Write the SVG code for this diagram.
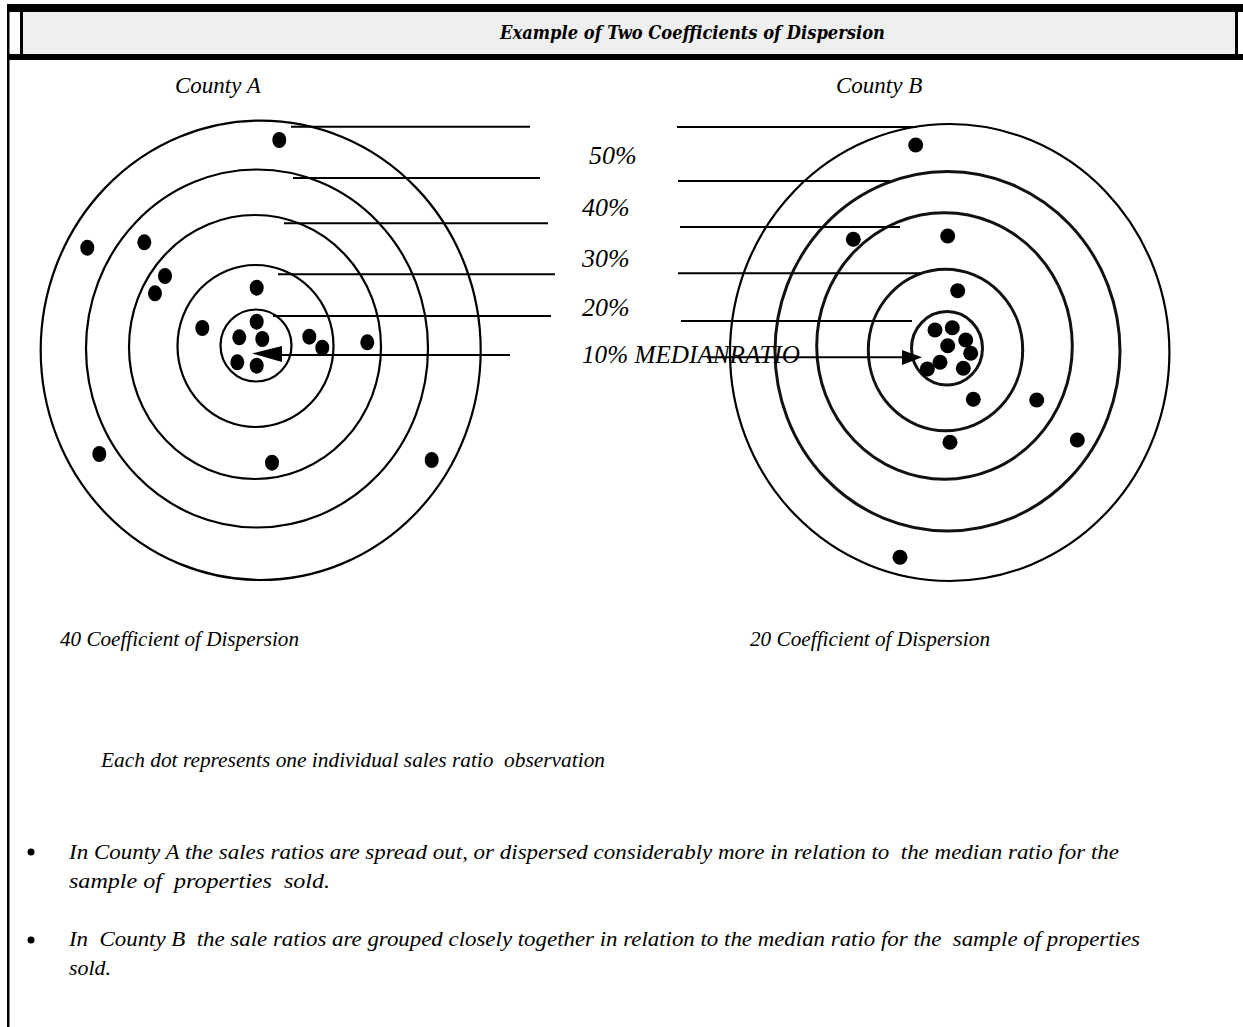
<svg xmlns="http://www.w3.org/2000/svg" width="1243" height="1027" viewBox="0 0 1243 1027">
<style>
.ring{fill:none;stroke:#000;stroke-width:2.2}
.ringb{fill:none;stroke:#111;stroke-width:3}
.dot{fill:#000}
.ln{stroke:#000;stroke-width:2;fill:none}
.lbl{font-family:"Liberation Serif","Times New Roman",serif;font-style:italic;fill:#000}
.title{font-family:"DejaVu Serif",serif;font-weight:bold;font-style:italic;font-size:19px;fill:#000}
</style>
<rect x="0" y="0" width="1243" height="1027" fill="#fff"/>
<g id="header">
<rect x="7" y="4" width="1236" height="8" fill="#000"/>
<rect x="7" y="4" width="2.5" height="1023" fill="#000"/>
<rect x="23" y="12" width="1212" height="42" fill="#efefef"/>
<rect x="20" y="12" width="3" height="42" fill="#000"/>
<rect x="1235" y="12" width="3" height="42" fill="#000"/>
<rect x="7" y="54" width="1236" height="6" fill="#000"/>
<text class="title" x="500" y="39" textLength="385" lengthAdjust="spacingAndGlyphs">Example of Two Coefficients of Dispersion</text>
</g>
<g id="countyA">
<text class="lbl" x="175" y="93" font-size="23">County A</text>
<ellipse class="ring" cx="260.7" cy="350.3" rx="220" ry="229.7"/>
<ellipse class="ring" cx="257" cy="348.5" rx="171" ry="179"/>
<ellipse class="ring" cx="255" cy="347" rx="126" ry="132"/>
<ellipse class="ring" cx="255.5" cy="346" rx="78" ry="81"/>
<ellipse class="ring" cx="256" cy="345.5" rx="35.5" ry="36"/>
<g class="dot">
<ellipse cx="279.3" cy="140" rx="7" ry="8"/>
<ellipse cx="87.3" cy="247.7" rx="7" ry="8"/>
<ellipse cx="144.3" cy="242.3" rx="7" ry="8"/>
<ellipse cx="165" cy="276" rx="7" ry="8"/>
<ellipse cx="155" cy="293.3" rx="7" ry="8"/>
<ellipse cx="256.7" cy="287.7" rx="7" ry="8"/>
<ellipse cx="202.3" cy="328" rx="7" ry="8"/>
<ellipse cx="256.7" cy="321.7" rx="7" ry="8"/>
<ellipse cx="239.3" cy="337.3" rx="7" ry="8"/>
<ellipse cx="262.3" cy="339" rx="7" ry="8"/>
<ellipse cx="237.3" cy="362.3" rx="7" ry="8"/>
<ellipse cx="256.7" cy="365.7" rx="7" ry="8"/>
<ellipse cx="309.3" cy="336.7" rx="7" ry="8"/>
<ellipse cx="322.3" cy="347.7" rx="7" ry="8"/>
<ellipse cx="367.3" cy="342.3" rx="7" ry="8"/>
<ellipse cx="99.3" cy="454" rx="7" ry="8"/>
<ellipse cx="272" cy="462.7" rx="7" ry="8"/>
<ellipse cx="431.7" cy="460" rx="7" ry="8"/>
</g>
<text class="lbl" x="60" y="646" font-size="20" textLength="239" lengthAdjust="spacingAndGlyphs">40 Coefficient of Dispersion</text>
</g>
<g id="countyB">
<text class="lbl" x="836" y="93" font-size="23">County B</text>
<ellipse class="ring" cx="949.7" cy="352.5" rx="219.7" ry="228.5"/>
<ellipse class="ringb" cx="947.5" cy="351.3" rx="172.5" ry="179.7"/>
<ellipse class="ringb" cx="944.5" cy="346" rx="127.8" ry="133.3"/>
<ellipse class="ringb" cx="945.5" cy="350" rx="77.2" ry="80.7"/>
<ellipse class="ringb" cx="947" cy="348.3" rx="35.5" ry="36.7"/>
<g class="dot">
<circle cx="915.7" cy="145" r="7.5"/>
<circle cx="853.3" cy="239.3" r="7.5"/>
<circle cx="947.7" cy="236" r="7.5"/>
<circle cx="957.7" cy="290.7" r="7.5"/>
<circle cx="935" cy="330" r="7.5"/>
<circle cx="952.3" cy="327.7" r="7.5"/>
<circle cx="965.7" cy="340" r="7.5"/>
<circle cx="947.7" cy="345.7" r="7.5"/>
<circle cx="970.7" cy="353.3" r="7.5"/>
<circle cx="940" cy="362.3" r="7.5"/>
<circle cx="927.3" cy="369" r="7.5"/>
<circle cx="963.3" cy="368.3" r="7.5"/>
<circle cx="973.3" cy="399.3" r="7.5"/>
<circle cx="1036.7" cy="400" r="7.5"/>
<circle cx="950" cy="442.3" r="7.5"/>
<circle cx="1077.3" cy="440" r="7.5"/>
<circle cx="900" cy="557.3" r="7.5"/>
</g>
<text class="lbl" x="750" y="646" font-size="20" textLength="240" lengthAdjust="spacingAndGlyphs">20 Coefficient of Dispersion</text>
</g>
<g id="scale-labels">
<text class="lbl" x="589" y="164" font-size="26">50%</text>
<text class="lbl" x="582" y="216" font-size="26">40%</text>
<text class="lbl" x="582" y="267" font-size="26">30%</text>
<text class="lbl" x="582" y="316" font-size="26">20%</text>
<text class="lbl" x="582" y="363" font-size="25" textLength="218" lengthAdjust="spacingAndGlyphs">10% MEDIANRATIO</text>
</g>
<g id="connectors">
<line class="ln" x1="291" y1="126.7" x2="530" y2="126.7"/>
<line class="ln" x1="293" y1="178" x2="540" y2="178"/>
<line class="ln" x1="284" y1="223.3" x2="548" y2="223.3"/>
<line class="ln" x1="278" y1="274.3" x2="555" y2="274.3"/>
<line class="ln" x1="273" y1="316" x2="551" y2="316"/>
<line class="ln" x1="280" y1="355" x2="510" y2="355"/>
<polygon points="252,353.5 282,346 282,362" fill="#000"/>
<line class="ln" x1="677" y1="127" x2="917" y2="127"/>
<line class="ln" x1="678" y1="181" x2="890" y2="181"/>
<line class="ln" x1="680" y1="227" x2="900" y2="227"/>
<line class="ln" x1="678" y1="273.3" x2="920" y2="273.3"/>
<line class="ln" x1="681" y1="321" x2="912" y2="321"/>
<line class="ln" x1="707" y1="357.3" x2="904" y2="357.3"/>
<polygon points="922,357.3 902,350 902,365" fill="#000"/>
</g>
<g id="notes">
<text class="lbl" x="101" y="767" font-size="21" textLength="504" lengthAdjust="spacingAndGlyphs" xml:space="preserve">Each dot represents one individual sales ratio  observation</text>
<circle cx="31" cy="852" r="3.5" fill="#000"/>
<text class="lbl" x="69" y="859" font-size="22" textLength="1050" lengthAdjust="spacingAndGlyphs" xml:space="preserve">In County A the sales ratios are spread out, or dispersed considerably more in relation to  the median ratio for the</text>
<text class="lbl" x="69" y="888" font-size="22" textLength="261" lengthAdjust="spacingAndGlyphs" xml:space="preserve">sample of  properties  sold.</text>
<circle cx="31" cy="940" r="3.5" fill="#000"/>
<text class="lbl" x="69" y="946" font-size="22" textLength="1071" lengthAdjust="spacingAndGlyphs" xml:space="preserve">In  County B  the sale ratios are grouped closely together in relation to the median ratio for the  sample of properties</text>
<text class="lbl" x="69" y="975" font-size="22" textLength="42" lengthAdjust="spacingAndGlyphs">sold.</text>
</g>
</svg>
